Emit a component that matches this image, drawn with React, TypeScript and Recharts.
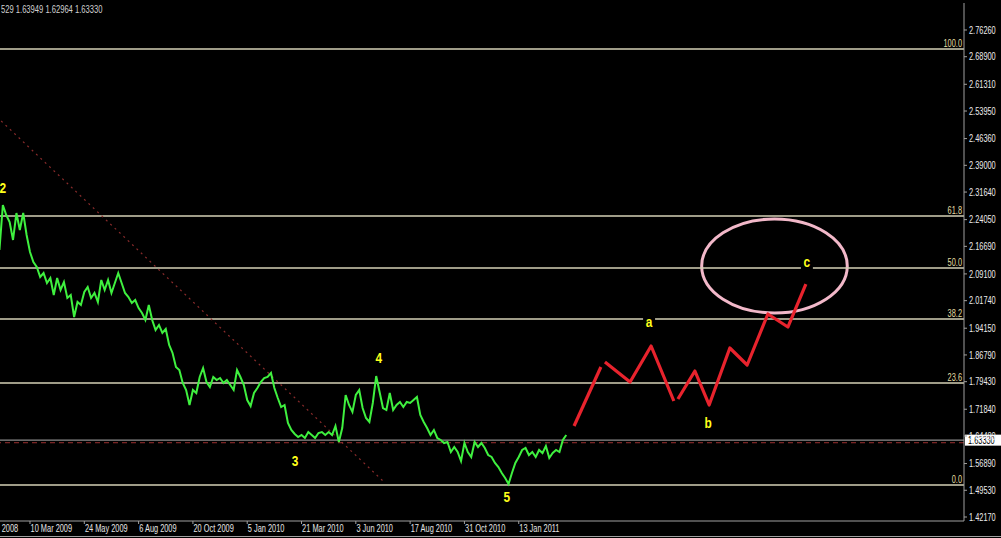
import React from 'react';
import {
  ComposedChart,
  Line,
  XAxis,
  YAxis,
  ReferenceLine,
  ReferenceArea,
  ReferenceDot,
} from 'recharts';

// bar index of the first visible close
const firstBar = 23;

// closes, one per bar
const closes = [
  2.1568, 2.2807, 2.2532, 2.2339, 2.1844, 2.2587, 2.2119, 2.2587, 2.1981, 2.1513,
  2.1238, 2.11, 2.0825, 2.0935, 2.066, 2.0797, 2.0329, 2.0797, 2.0467, 2.0687,
  2.0247, 2.0329, 1.9724, 2.0137, 2.0054, 2.0412, 2.055, 2.0247, 2.0384, 2.0137,
  2.0742, 2.0467, 2.0742, 2.0384, 2.066, 2.0935, 2.066, 2.0384, 2.0274, 2.0109,
  2.0192, 1.9971, 1.9834, 1.9641, 2.0054, 1.9641, 1.9366, 1.9504, 1.9284, 1.9393,
  1.8953, 1.8733, 1.8347, 1.8264, 1.7906, 1.7714, 1.7301, 1.7714, 1.7631, 1.8072,
  1.8319, 1.7934, 1.7796, 1.8072, 1.7989, 1.8044, 1.7906, 1.7989, 1.7851, 1.7714,
  1.8264, 1.8072, 1.7851, 1.7438, 1.7273, 1.7631, 1.7769, 1.7934, 1.8044, 1.8072,
  1.8182, 1.7769, 1.7493, 1.7246, 1.7301, 1.6805, 1.6613, 1.6502, 1.642, 1.6475,
  1.6392, 1.6557, 1.6475, 1.6392, 1.653, 1.6557, 1.6475, 1.6557, 1.6475, 1.6723,
  1.6282, 1.6668, 1.7576, 1.7301, 1.7108, 1.7576, 1.7714, 1.7218, 1.6943, 1.6833,
  1.7356, 1.8099, 1.7659, 1.7218, 1.7163, 1.7631, 1.7163, 1.7301, 1.7383, 1.7246,
  1.7383, 1.7356, 1.7438, 1.7521, 1.7025, 1.6833, 1.6668, 1.6475, 1.6613, 1.6392,
  1.6337, 1.6254, 1.6282, 1.6007, 1.6144, 1.6007, 1.5759, 1.6254, 1.6007, 1.5869,
  1.6282, 1.6144, 1.6254, 1.6117, 1.5924, 1.5869, 1.5704, 1.5594, 1.5428, 1.5291,
  1.5126, 1.5428, 1.5704, 1.5869, 1.6062, 1.6117, 1.5924, 1.6007, 1.5869, 1.6062,
  1.5979, 1.6172, 1.5842, 1.5979, 1.6062, 1.6007, 1.6337, 1.6475,
];

// hand drawn forecast (three strokes)
const forecastA = [
  { bar: 192.3, value: 1.6722 },
  { bar: 200.2, value: 1.8347 },
];
const forecastB = [
  { bar: 201.4, value: 1.8485 },
  { bar: 208.8, value: 1.7934 },
  { bar: 215.0, value: 1.8925 },
  { bar: 221.7, value: 1.7411 },
];
const forecastC = [
  { bar: 222.9, value: 1.7466 },
  { bar: 227.9, value: 1.8237 },
  { bar: 232.1, value: 1.7301 },
  { bar: 238.2, value: 1.887 },
  { bar: 243.3, value: 1.8402 },
  { bar: 249.4, value: 1.9806 },
  { bar: 255.3, value: 1.9448 },
  { bar: 260.6, value: 2.0632 },
];

const dateTicks = [16, 32, 48, 64, 80, 96, 112, 128, 144, 160, 176];
const dateLabels = [
  '25 Dec 2008', '10 Mar 2009', '24 May 2009', '6 Aug 2009', '20 Oct 2009',
  '5 Jan 2010', '21 Mar 2010', '3 Jun 2010', '17 Aug 2010', '31 Oct 2010', '13 Jan 2011',
];

const priceTicks = [
  1.4217, 1.4953, 1.5689, 1.6448, 1.7184, 1.7943, 1.8679, 1.9415, 2.0174, 2.091,
  2.1669, 2.2405, 2.3164, 2.39, 2.4636, 2.5395, 2.6131, 2.689, 2.7626,
];

const fibLevels = ['0.0', '23.6', '38.2', '50.0', '61.8', '100.0'];
const fibPrices = [1.5098, 1.7907, 1.9669, 2.1073, 2.2505, 2.7103];

const waveLabels = ['2', '3', '4', '5', 'a', 'b', 'c'];
const waveBars = [24.0, 110.1, 134.8, 172.5, 214.4, 231.8, 260.9];
const wavePrices = [2.3276, 1.5759, 1.8595, 1.4768, 1.9586, 1.6805, 2.1238];

const trendFrom = { x: 5.5, y: 2.6705 };
const trendTo = { x: 136, y: 1.5209 };

const bidPrice = 1.6333;
const askPrice = 1.6262;
const ohlcText = '529 1.63949 1.62964 1.63330';

const xDomain = [5.483, 307.19];
const yDomain = [1.4107, 2.8369];

const FONT = '"Liberation Sans", Arial, sans-serif';
const AXIS = '#a0a0a0';

const priceData = closes.map((close, i) => ({ bar: firstBar + i, close }));

function Squeezed({ x, y, text, fill, anchor = 'start', size = 10, weight = 'normal', sx = 0.74 }: any) {
  return (
    <g transform={`translate(${x},${y}) scale(${sx},1)`}>
      <text x={0} y={0} textAnchor={anchor} fill={fill} fontSize={size} fontWeight={weight} fontFamily={FONT}>
        {text}
      </text>
    </g>
  );
}

function DateTick({ x, y, payload }: any) {
  const label = dateLabels[dateTicks.indexOf(payload.value)];
  return <Squeezed x={x + 0.6} y={y + 8} text={label} fill="#e6e6e6" size={10} />;
}

function PriceTick({ x, y, payload }: any) {
  return <Squeezed x={x} y={y + 3.6} text={payload.value.toFixed(5)} fill="#ececec" />;
}

function fibLabel(text: string) {
  return (props: any) => {
    const vb = props.viewBox;
    return <Squeezed x={vb.x + vb.width - 2} y={vb.y - 2} text={text} fill="#e2dda0" anchor="end" />;
  };
}

function priceTag(props: any) {
  const vb = props.viewBox;
  const left = vb.x + vb.width + 1;
  return (
    <g>
      <rect x={left} y={vb.y - 5.5} width={36} height={11} fill="#ffffff" />
      <Squeezed x={left + 3} y={vb.y + 3.6} text={bidPrice.toFixed(5)} fill="#000000" />
    </g>
  );
}

function waveShape(text: string) {
  return (props: any) => {
    const { cx, cy } = props;
    return (
      <g>
        <rect x={cx - 6} y={cy - 7} width={12} height={14} fill="#000000" />
        <Squeezed x={cx} y={cy + 5} text={text} fill="#ffff1a" anchor="middle" size={14} weight="bold" sx={0.85} />
      </g>
    );
  };
}

function ellipseShape(props: any) {
  const { x, y, width, height } = props;
  return (
    <ellipse
      cx={x + width / 2}
      cy={y + height / 2}
      rx={width / 2}
      ry={height / 2}
      fill="#000000"
      stroke="#f2b8c9"
      strokeWidth={3}
    />
  );
}

export default function App() {
  return (
    <div
      style={{
        position: 'absolute',
        left: 0,
        top: 0,
        width: 1001,
        height: 538,
        overflow: 'hidden',
        background: '#000000',
      }}
    >
      <div style={{ position: 'absolute', left: -60, top: 0 }}>
        <ComposedChart
          width={1061}
          height={538}
          data={priceData}
          margin={{ top: 3, right: 0, bottom: 2, left: 0 }}
        >
          <XAxis
            dataKey="bar"
            type="number"
            domain={xDomain}
            allowDataOverflow
            ticks={dateTicks}
            interval={0}
            height={15}
            tickSize={3}
            tickMargin={0}
            tick={(p: any) => <DateTick {...p} />}
            tickLine={{ stroke: AXIS }}
            axisLine={{ stroke: AXIS }}
          />
          <XAxis
            xAxisId="top"
            orientation="top"
            type="number"
            domain={xDomain}
            allowDataOverflow
            height={0}
            tick={false}
            tickLine={false}
            axisLine={{ stroke: AXIS }}
          />
          <YAxis
            orientation="right"
            type="number"
            domain={yDomain}
            allowDataOverflow
            ticks={priceTicks}
            interval={0}
            width={37}
            tickSize={3}
            tickMargin={2}
            tick={(p: any) => <PriceTick {...p} />}
            tickLine={{ stroke: AXIS }}
            axisLine={{ stroke: AXIS }}
          />

          {fibPrices.map((price, i) => (
            <ReferenceLine
              key={fibLevels[i]}
              y={price}
              stroke="#d4d0b6"
              strokeWidth={1.4}
              label={fibLabel(fibLevels[i])}
            />
          ))}

          <ReferenceLine
            segment={[trendFrom, trendTo]}
            stroke="#8a2b2b"
            strokeWidth={1.2}
            strokeDasharray="2 4"
          />
          <ReferenceLine y={bidPrice} stroke="#8c8c8c" strokeWidth={1.2} label={priceTag} />
          <ReferenceLine y={askPrice} stroke="#9a3030" strokeDasharray="5 4" />

          <ReferenceArea
            x1={229.9}
            x2={272.8}
            y1={1.9834}
            y2={2.2422}
            shape={ellipseShape}
          />

          <Line
            dataKey="close"
            type="linear"
            stroke="#3ff03f"
            strokeWidth={2}
            dot={false}
            isAnimationActive={false}
          />
          {[forecastA, forecastB, forecastC].map((seg, i) => (
            <Line
              key={i}
              data={seg}
              dataKey="value"
              type="linear"
              stroke="#e8232d"
              strokeWidth={3.2}
              strokeLinejoin="round"
              dot={false}
              isAnimationActive={false}
            />
          ))}

          {waveLabels.map((text, i) => (
            <ReferenceDot
              key={text}
              x={waveBars[i]}
              y={wavePrices[i]}
              r={0}
              shape={waveShape(text)}
            />
          ))}
        </ComposedChart>
      </div>
      <div
        style={{
          position: 'absolute',
          left: 1,
          top: 5,
          fontSize: 10,
          lineHeight: '10px',
          fontFamily: FONT,
          color: '#d0d0d0',
          whiteSpace: 'nowrap',
          transform: 'scaleX(0.76)',
          transformOrigin: 'left top',
        }}
      >
        {ohlcText}
      </div>
      <div style={{ position: 'absolute', left: 0, top: 536, width: 1001, height: 1, background: AXIS }} />
    </div>
  );
}
